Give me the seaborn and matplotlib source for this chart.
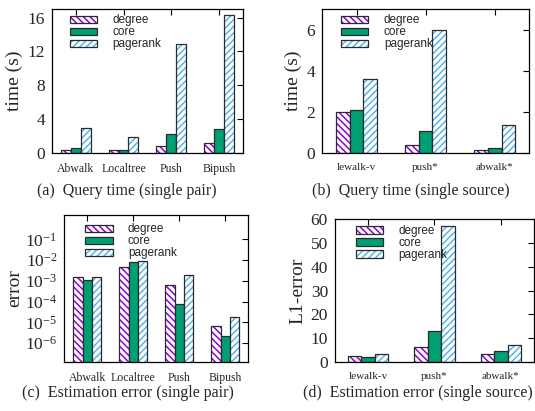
import numpy as np
import pandas as pd
import matplotlib
matplotlib.use("Agg")
import matplotlib.pyplot as plt
import matplotlib.colors as mcolors
import seaborn as sns

# ---------------- data ----------------
pair_methods = ["Abwalk", "Localtree", "Push", "Bipush"]
source_methods = ["lewalk-v", "push*", "abwalk*"]
orderings = ["degree", "core", "pagerank"]

time_pair_degree = [0.3, 0.3, 0.85, 1.15]
time_pair_core = [0.55, 0.4, 2.2, 2.85]
time_pair_pagerank = [2.95, 1.85, 12.85, 16.3]

time_src_degree = [2.0, 0.4, 0.15]
time_src_core = [2.1, 1.05, 0.25]
time_src_pagerank = [3.6, 6.0, 1.35]

err_pair_degree = [1.55e-3, 4.5e-3, 6.4e-4, 6.9e-6]
err_pair_core = [1.08e-3, 7.7e-3, 7.2e-5, 2.1e-6]
err_pair_pagerank = [1.45e-3, 9.3e-3, 1.94e-3, 1.87e-5]

err_src_degree = [2.4, 6.5, 3.2]
err_src_core = [2.2, 13.0, 4.5]
err_src_pagerank = [3.2, 57.0, 7.0]

# ---------------- style ----------------
sns.set_theme(style="white")
plt.rcParams["font.family"] = ["Liberation Serif", "DejaVu Serif"]
plt.rcParams["mathtext.fontset"] = "stix"
plt.rcParams["hatch.linewidth"] = 1.1

colors = {"degree": "#9400D3", "core": "#009E73", "pagerank": "#56B4E9"}
hatches = {"degree": "\\\\\\\\\\", "core": "", "pagerank": "/////"}
outline = "#2a2a2a"


def make_df(methods, a, b, c):
    rows = []
    for vals, name in zip([a, b, c], orderings):
        for m, v in zip(methods, vals):
            rows.append({"method": m, "ordering": name, "value": v})
    return pd.DataFrame(rows)


def style_bars(ax):
    for cont, name in zip(ax.containers, orderings):
        for p in cont.patches:
            p.set_edgecolor(outline)
            p.set_linewidth(0.9)
            if name == "core":
                p.set_facecolor(colors[name])
            else:
                p.set_facecolor("white")
                p.set_hatch(hatches[name])
                if hasattr(p, "set_hatchcolor"):
                    p.set_hatchcolor(colors[name])
                else:
                    p._hatch_color = mcolors.to_rgba(colors[name])


def finish(ax, ylabel, tick_fs=12.5, xtick_fs=8.5, labelpad=3, anchor=(0.07, 0.995)):
    for s in ax.spines.values():
        s.set_color("black")
        s.set_linewidth(0.9)
        s.set_visible(True)
    ax.tick_params(axis="both", which="major", direction="in", top=True, right=True,
                   length=4, width=0.8, color="black")
    ax.tick_params(axis="y", labelsize=tick_fs, pad=5)
    ax.tick_params(axis="x", labelsize=xtick_fs, pad=7)
    ax.tick_params(which="minor", length=0)
    ax.set_xlabel("")
    ax.set_ylabel(ylabel, fontsize=14, labelpad=labelpad)
    ax.legend(handles=[c for c in ax.containers], labels=orderings,
              loc="upper left", bbox_to_anchor=anchor, frameon=False,
              prop={"family": "Liberation Sans", "size": 8.5},
              handlelength=2.3, handleheight=0.55, labelspacing=0.0,
              handletextpad=1.3, borderaxespad=0.0)


fig = plt.figure(figsize=(5.35, 4.11), dpi=100)

# (a)
ax1 = fig.add_axes([0.097, 0.628, 0.357, 0.350])
df = make_df(pair_methods, time_pair_degree, time_pair_core, time_pair_pagerank)
sns.barplot(data=df, x="method", y="value", hue="ordering", hue_order=orderings,
            palette=colors, width=0.62, legend=False, ax=ax1, errorbar=None)
style_bars(ax1)
ax1.set_ylim(0, 17)
ax1.set_yticks([0, 4, 8, 12, 16])
ax1.set_xlim(-0.5, 3.5)
finish(ax1, "time (s)")

# (b)
ax2 = fig.add_axes([0.602, 0.628, 0.387, 0.350])
df = make_df(source_methods, time_src_degree, time_src_core, time_src_pagerank)
sns.barplot(data=df, x="method", y="value", hue="ordering", hue_order=orderings,
            palette=colors, width=0.6, legend=False, ax=ax2, errorbar=None)
style_bars(ax2)
ax2.set_ylim(0, 7)
ax2.set_yticks([0, 2, 4, 6])
ax2.set_xlim(-0.5, 2.5)
finish(ax2, "time (s)", xtick_fs=8)

# (c)
ax3 = fig.add_axes([0.120, 0.119, 0.344, 0.358])
ax3.set_yscale("log")
df = make_df(pair_methods, err_pair_degree, err_pair_core, err_pair_pagerank)
sns.barplot(data=df, x="method", y="value", hue="ordering", hue_order=orderings,
            palette=colors, width=0.61, legend=False, ax=ax3, errorbar=None)
style_bars(ax3)
ax3.set_yscale("log")
ax3.set_ylim(1.2e-7, 1.5)
ax3.set_yticks([1e-6, 1e-5, 1e-4, 1e-3, 1e-2, 1e-1])
ax3.set_xlim(-0.5, 3.5)
finish(ax3, "error", labelpad=1, anchor=(0.09, 0.975))

# (d)
ax4 = fig.add_axes([0.626, 0.119, 0.372, 0.348])
df = make_df(source_methods, err_src_degree, err_src_core, err_src_pagerank)
sns.barplot(data=df, x="method", y="value", hue="ordering", hue_order=orderings,
            palette=colors, width=0.61, legend=False, ax=ax4, errorbar=None)
style_bars(ax4)
ax4.set_ylim(0, 60)
ax4.set_yticks([0, 10, 20, 30, 40, 50, 60])
ax4.set_xlim(-0.5, 2.5)
finish(ax4, "L1-error", xtick_fs=8, anchor=(0.08, 0.99))

cap_fs = 11.5
fig.text(0.237, 1 - 191 / 411, "(a)  Query time (single pair)", ha="center", va="center", fontsize=cap_fs)
fig.text(0.767, 1 - 191 / 411, "(b)  Query time (single source)", ha="center", va="center", fontsize=cap_fs)
fig.text(0.239, 1 - 393 / 411, "(c)  Estimation error (single pair)", ha="center", va="center", fontsize=cap_fs)
fig.text(0.781, 1 - 393 / 411, "(d)  Estimation error (single source)", ha="center", va="center", fontsize=cap_fs)

fig.savefig("out.png", dpi=100)
